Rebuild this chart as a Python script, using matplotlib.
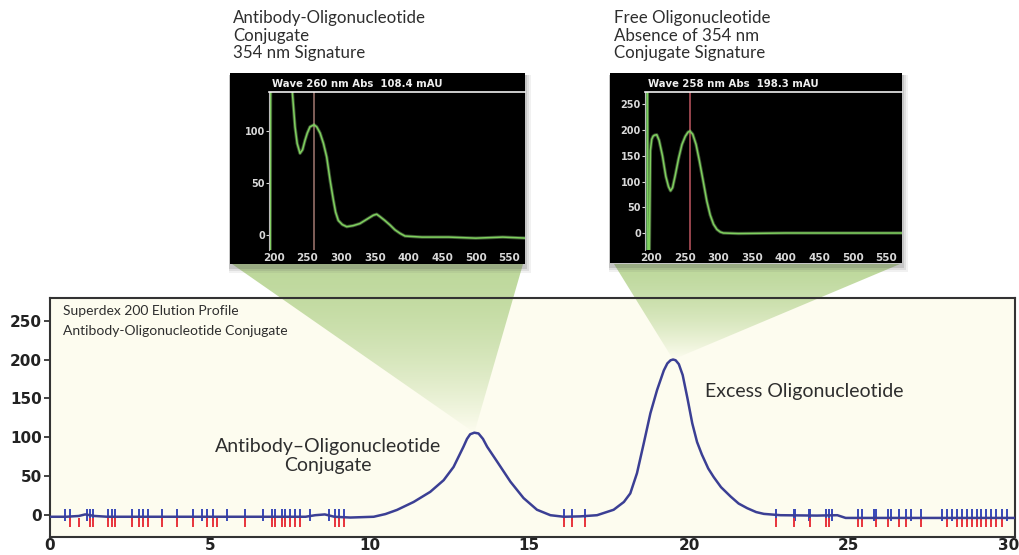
import numpy as np
import matplotlib
matplotlib.use("Agg")
import matplotlib.pyplot as plt
from matplotlib.patches import Rectangle, Polygon

# main elution profile (time, absorbance mAU)
elution_time = [0, 0.5, 0.9, 1.1, 1.4, 1.8, 3, 5, 7, 8.0, 8.3, 8.6, 8.9, 9.4,
                10.13, 10.5, 10.86, 11.38, 11.9, 12.32, 12.63, 12.94, 13.05, 13.15, 13.28,
                13.41, 13.55, 13.68, 13.99, 14.41, 14.82, 15.24, 15.66, 16.08, 16.6, 17.12,
                17.64, 17.96, 18.16, 18.37, 18.58, 18.79, 19.0, 19.21, 19.32, 19.42, 19.5,
                19.58, 19.68, 19.8, 19.95, 20.1, 20.25, 20.4, 20.6, 20.77, 21.0, 21.3,
                21.55, 21.82, 22.1, 22.34, 22.86, 24.0, 24.64, 24.9, 27.0, 30.2]
elution_abs = [-2, -2, -1, 1, -1, -2, -2, -2, -2, -2, 0, 1, -2, -3,
               -2, 1.5, 6.8, 17, 30, 45, 62, 88, 98, 104, 106,
               105, 98, 88, 69, 43, 22, 7, 0, -2, -1.5, 0,
               7, 17, 28, 54, 92, 131, 161, 186, 195, 199, 200,
               199, 194, 180, 150, 118, 94, 78, 60, 49, 36, 24,
               15, 9, 4, 1.7, 0, -0.5, 0, -3.5, -3.5, -3.5]

# fraction markers
fractions_blue = [0.47, 0.63, 1.15, 1.25, 1.36, 1.83, 1.93, 2.04, 2.56, 2.77, 2.92, 3.08,
                  3.5, 3.97, 4.49, 4.75, 4.91, 5.11, 5.53, 6.11, 6.68, 6.94, 7.05, 7.26,
                  7.36, 7.52, 7.67, 7.83, 8.14, 8.72, 8.93, 9.03, 9.19,
                  16.1, 16.34, 16.73,
                  22.71, 23.28, 23.33, 23.75, 23.8, 24.27, 24.38, 24.48, 25.28, 25.42,
                  25.79, 25.84, 26.22, 26.31, 26.57, 26.8, 26.93, 27.25, 27.9, 28.08,
                  28.24, 28.4, 28.55, 28.7, 28.85, 29.0, 29.15, 29.3, 29.45, 29.6, 29.78, 29.95]
fractions_red = [0.63, 0.9, 1.25, 1.36, 1.83, 1.93, 2.04, 2.56, 2.77, 2.92, 3.08,
                 3.5, 3.97, 4.49, 4.91, 5.11, 5.22, 6.11, 6.94, 7.05, 7.26,
                 7.36, 7.52, 7.67, 7.83, 8.93, 9.03, 9.19,
                 16.1, 16.34, 16.73,
                 22.71, 23.28, 23.8, 24.27, 24.38, 25.28, 25.42,
                 25.84, 26.22, 26.57, 26.8, 27.25, 28.08,
                 28.4, 28.55, 28.7, 28.85, 29.0, 29.15, 29.3, 29.45, 29.6, 29.78]

main_xticks = [0, 5, 10, 15, 20, 25, 30]
main_yticks = [0, 50, 100, 150, 200, 250]

# UV spectrum of conjugate peak
spec1_wl = [195, 196.5, 215, 226, 228, 231.8, 235, 239.2, 243, 246.6, 250, 254, 260, 264, 269,
            274, 278.8, 284, 288.6, 292, 296, 302, 308.5, 318, 328, 338, 348, 353, 358,
            365, 372.8, 380, 387.6, 395, 420, 460, 500, 540, 575]
spec1_abs = [-14, 400, 400, 400, 136, 104, 88, 78.5, 82, 91, 98, 104, 106, 104, 98,
             88, 75, 52, 34, 22, 14, 10, 8, 9, 11, 15, 19, 20, 17.6,
             14, 9.6, 5, 1.6, -1, -2, -2, -3, -2, -3]
spec1_xticks = [200, 250, 300, 350, 400, 450, 500, 550]
spec1_yticks = [0, 50, 100]

# UV spectrum of free oligo peak
spec2_wl = [194.5, 195.5, 197.5, 199, 201, 203, 205, 208.5, 212, 217, 222, 226, 229, 232,
            236, 241, 246, 251, 255, 258, 262, 267, 272, 277, 283, 288, 293, 298,
            303, 307.6, 330, 400, 450, 500, 575]
spec2_abs = [300, -40, -40, 160, 182, 188, 190, 191, 180, 150, 110, 90, 82, 88,
             112, 145, 172, 188, 196, 198, 192, 172, 140, 105, 62, 35, 17, 7,
             2, 0, -1, 0, 0, 0, 0]
spec2_xticks = [200, 250, 300, 350, 400, 450, 500, 550]
spec2_yticks = [0, 50, 100, 150, 200, 250]

W, H = 1019, 555
fig = plt.figure(figsize=(W / 100, H / 100), dpi=100)


def box(l, t, r, b):
    return [l / W, 1 - b / H, (r - l) / W, (b - t) / H]


bg = fig.add_axes([0, 0, 1, 1])
bg.set_xlim(0, W)
bg.set_ylim(H, 0)
bg.axis('off')
bg.set_zorder(0)

cream = '#fdfcef'
txt = '#2e2e2e'
ax = fig.add_axes(box(50, 298, 1015, 537))
ax.set_zorder(2)
ax.patch.set_alpha(0)
ax.set_xlim(0, 30.2)
ax.set_ylim(-28, 279)

pos = ax.get_position()
bg.add_patch(Rectangle((pos.x0 * W, (1 - pos.y1) * H), pos.width * W, pos.height * H,
                       facecolor=cream, edgecolor='none', zorder=0))

ax.plot(elution_time, elution_abs, color='#3b3f94', lw=1.8, zorder=3)
ax.vlines(fractions_blue, -7, 8, color='#3848b8', lw=1.4, zorder=2)
ax.vlines(fractions_red, -15, -3, color='#e8343c', lw=1.4, zorder=2)

ax.set_xticks(main_xticks)
ax.set_yticks(main_yticks)
for lab in ax.get_xticklabels() + ax.get_yticklabels():
    lab.set_fontweight('bold')
ax.tick_params(axis='y', labelsize=11, colors='#222222', length=4, width=1.2, pad=2)
ax.tick_params(axis='x', labelsize=11, colors='#222222', length=0, pad=1)
for s in ax.spines.values():
    s.set_color('#333333')
    s.set_linewidth(1.5)

ax.text(0.41, 262, 'Superdex 200 Elution Profile', fontsize=10, color=txt,
        va='center', family='Lato')
ax.text(0.41, 237, 'Antibody-Oligonucleotide Conjugate', fontsize=10, color=txt,
        va='center', family='Lato')
ax.text(8.7, 76, 'Antibody\u2013Oligonucleotide\nConjugate', fontsize=14, color=txt,
        ha='center', va='center', multialignment='center', family='Lato', linespacing=1.2)
ax.text(20.5, 159, 'Excess Oligonucleotide', fontsize=14, color=txt,
        va='center', family='Lato')


def to_px(x, y):
    d = ax.transData.transform((x, y))
    return d[0], H - d[1]


def beam(l, r, top, apex):
    pts = [(l, top), (r, top), apex]
    poly = Polygon(pts, closed=True, facecolor='none', edgecolor='none')
    bg.add_patch(poly)
    n = 200
    t = np.linspace(0, 1, n)[:, None]
    img = np.zeros((n, 2, 4))
    img[..., 0] = 0.73
    img[..., 1] = 0.84
    img[..., 2] = 0.59
    img[..., 3] = (1 - t ** 1.6) * 0.95
    im = bg.imshow(img, extent=(l, r, apex[1], top), origin='upper', aspect='auto',
                   interpolation='bilinear', zorder=1)
    im.set_clip_path(poly)


i1 = int(np.argmax(np.where(np.array(elution_time) < 16, elution_abs, -99)))
i2 = int(np.argmax(elution_abs))
beam(232, 523, 264, to_px(elution_time[i1], elution_abs[i1]))
beam(614, 900, 264, to_px(elution_time[i2], elution_abs[i2]))
bg.set_xlim(0, W)
bg.set_ylim(H, 0)


def inset(outer, inner, wl, ab, xlim, ylim, xt, yt, line_wl, line_col, title):
    l, t, r, b = outer
    for k, a in [(7, 0.08), (5, 0.12), (3, 0.18)]:
        bg.add_patch(Rectangle((l - 1, t + 2), r - l + k, b - t + k, facecolor='#555555',
                               edgecolor='none', alpha=a, zorder=2))
    bg.add_patch(Rectangle((l, t), r - l, b - t, facecolor='black', edgecolor='none', zorder=3))
    ia = fig.add_axes(box(*inner))
    ia.set_zorder(3)
    ia.set_facecolor('black')
    ia.set_xlim(*xlim)
    ia.set_ylim(*ylim)
    ia.axvline(line_wl, color=line_col, lw=1.3)
    ia.plot(wl, ab, color='#a6e88a', lw=2.4, alpha=0.35)
    ia.plot(wl, ab, color='#7fd05e', lw=1.1)
    ia.set_xticks(xt)
    ia.set_yticks(yt)
    for lab in ia.get_xticklabels() + ia.get_yticklabels():
        lab.set_fontweight('bold')
    ia.tick_params(axis='y', labelsize=7, colors='#d8d8d8', length=2, pad=1)
    ia.tick_params(axis='x', labelsize=7.5, colors='#d8d8d8', length=0, pad=2)
    for k in ['right', 'bottom']:
        ia.spines[k].set_visible(False)
    ia.spines['left'].set_color('#bbbbbb')
    ia.spines['top'].set_color('#f0f0f0')
    ia.spines['top'].set_linewidth(1.2)
    ia.text(0.01, 1.02, title, transform=ia.transAxes, fontsize=7.3, color='#eeeeee',
            fontweight='bold', va='bottom')
    return ia


inset((230, 73, 525, 264), (269, 92, 525, 250), spec1_wl, spec1_abs, (193.2, 573),
      (-14.4, 137.5), spec1_xticks, spec1_yticks, 260, '#8a6660',
      'Wave 260 nm Abs  108.4 mAU')
ib = inset((610, 73, 902, 263), (645, 92, 902, 250), spec2_wl, spec2_abs, (191, 573.5),
           (-33, 274), spec2_xticks, spec2_yticks, 258, '#a24a52',
           'Wave 258 nm Abs  198.3 mAU')
ib.axvspan(191, 194.5, color='#2d6a3a', zorder=0)

fig.text(233 / W, 1 - 10 / H, 'Antibody-Oligonucleotide\nConjugate\n354 nm Signature',
         fontsize=12.2, color=txt, va='top', family='Lato', linespacing=1.12)
fig.text(614 / W, 1 - 10 / H, 'Free Oligonucleotide\nAbsence of 354 nm\nConjugate Signature',
         fontsize=12.2, color=txt, va='top', family='Lato', linespacing=1.12)

fig.savefig('out.png', dpi=100, facecolor='white')
